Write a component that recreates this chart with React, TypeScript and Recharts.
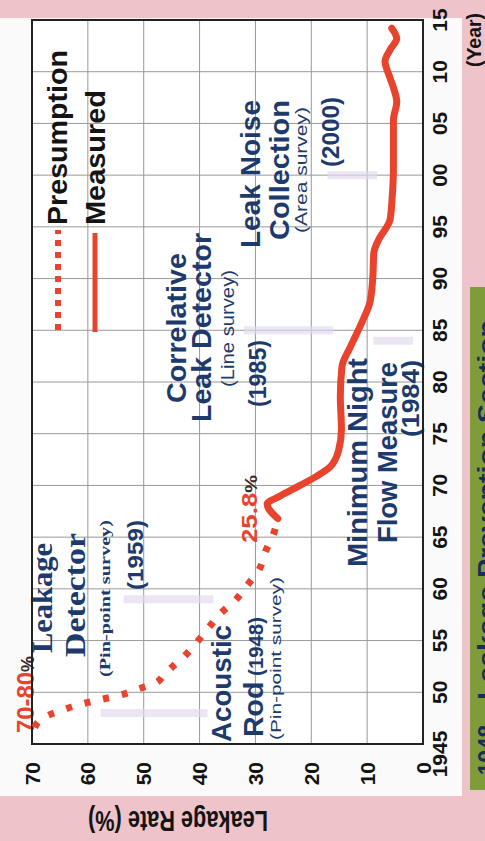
import React from 'react';
import {
  LineChart,
  Line,
  XAxis,
  YAxis,
  CartesianGrid,
  ReferenceArea,
  ReferenceLine,
  Customized,
} from 'recharts';

// years on the horizontal axis, leakage rate (%) on the vertical one
const YEAR_TICKS = [1945, 1950, 1955, 1960, 1965, 1970, 1975, 1980, 1985, 1990, 1995, 2000, 2005, 2010, 2015];
const RATE_TICKS = [0, 10, 20, 30, 40, 50, 60, 70];

const presumptionYears = [1946.6, 1947.6, 1948.3, 1948.9, 1949.3, 1949.7, 1950.3, 1950.9, 1951.6, 1952.3, 1953.4, 1954.9, 1956.3, 1957.6, 1958.9, 1960.4, 1961.8, 1963.6, 1965.4, 1966.8];
const presumptionRates = [69.5, 67.8, 64.5, 60.9, 57.7, 54.4, 51.1, 47.9, 46.5, 45.2, 42.9, 40.4, 38.3, 36.3, 33.6, 31.4, 29.4, 28.2, 26.7, 26.0];

const measuredYears = [1966.8, 1968.2, 1969.0, 1970.0, 1970.9, 1971.8, 1973.4, 1975.4, 1978.6, 1981.5, 1983.4, 1985.7, 1987.7, 1990.0, 1992.5, 1993.7, 1995.7, 1998.0, 2000.5, 2005.3, 2007.1, 2008.3, 2009.4, 2011.0, 2012.2, 2013.2, 2014.2];
const measuredRates = [26.0, 27.9, 25.5, 22.0, 19.0, 16.6, 15.1, 14.6, 14.8, 14.5, 13.0, 11.0, 9.5, 9.0, 8.8, 8.0, 5.9, 5.5, 5.3, 5.3, 4.7, 5.2, 5.9, 6.8, 5.8, 4.7, 5.6];

// faint markers for the year each technique came in
const markerYears = [1948, 1959, 1984, 1985, 2000];
const markerHigh = [57.7, 53.6, 8.9, 32.1, 17.1];
const markerLow = [38.6, 37.5, 1.8, 16.1, 8.2];

const presumption = presumptionYears.map((year, i) => ({ year, rate: presumptionRates[i] }));
const measured = measuredYears.map((year, i) => ({ year, rate: measuredRates[i] }));

const RED = '#e8432d';
const NAVY = '#1d3a6c';
const INK = '#141414';
const SANS = "'Liberation Sans', Arial, sans-serif";
const SERIF = "'Liberation Serif', 'Times New Roman', serif";

const Note = ({ x, y, size, w, color = NAVY, weight = 'bold', serif = false, children }: any) => (
  <text
    x={x}
    y={y}
    fontSize={size}
    fontWeight={weight}
    fill={color}
    fontFamily={serif ? SERIF : SANS}
    textLength={w}
    lengthAdjust="spacingAndGlyphs"
  >
    {children}
  </text>
);

const YearTick = ({ x, y, payload }: any) => (
  <text
    x={payload.value === 1945 ? x - 10 : x}
    y={y}
    dy="0.72em"
    textAnchor="middle"
    fontSize={21}
    fontWeight="bold"
    fill={INK}
    fontFamily={SANS}
  >
    {payload.value === 1945 ? '1945' : String(payload.value % 100).padStart(2, '0')}
  </text>
);

const RateTick = ({ x, y, payload }: any) => (
  <text x={x} y={y} dy="0.36em" textAnchor="end" fontSize={21} fontWeight="bold" fill={INK} fontFamily={SANS}>
    {payload.value}
  </text>
);

const Annotations = () => (
  <g>
    {/* legend */}
    <line x1={511} y1={58} x2={611} y2={58} stroke={RED} strokeWidth={6} strokeDasharray="6 6" />
    <line x1={509} y1={95} x2={608} y2={95} stroke={RED} strokeWidth={5} />
    <Note x={616} y={67} size={28} w={175} color={INK}>Presumption</Note>
    <Note x={616} y={105} size={28} w={135} color={INK}>Measured</Note>

    <text x={108} y={34} fontFamily={SANS} fontWeight="bold" textLength={77} lengthAdjust="spacingAndGlyphs">
      <tspan fill={RED} fontSize={24}>70-80</tspan>
      <tspan fill="#3a2a2a" fontSize={18}>%</tspan>
    </text>
    <text x={298} y={257} fontFamily={SANS} fontWeight="bold" textLength={68} lengthAdjust="spacingAndGlyphs">
      <tspan fill={RED} fontSize={22}>25.8</tspan>
      <tspan fill="#3a2a2a" fontSize={17}>%</tspan>
    </text>

    <Note x={188} y={52} size={29} w={110} serif>Leakage</Note>
    <Note x={184} y={85} size={29} w={124} serif>Detector</Note>
    <Note x={164} y={110} size={15} w={157} serif>(Pin-point survey)</Note>
    <Note x={251} y={143} size={22} w={70}>(1959)</Note>

    <Note x={99} y={231} size={28} w={117}>Acoustic</Note>
    <text x={104} y={263} fontFamily={SANS} fontWeight="bold" fill={NAVY} textLength={120} lengthAdjust="spacingAndGlyphs">
      <tspan fontSize={28}>Rod</tspan>
      <tspan fontSize={20}> (1948)</tspan>
    </text>
    <Note x={101} y={281} size={15} w={163} weight="normal">(Pin-point survey)</Note>

    <Note x={438} y={186} size={28} w={150}>Correlative</Note>
    <Note x={419} y={211} size={28} w={189}>Leak Detector</Note>
    <Note x={454} y={234} size={18} w={117} weight="normal">(Line survey)</Note>
    <Note x={434} y={266} size={23} w={67}>(1985)</Note>

    <Note x={593} y={260} size={28} w={148}>Leak Noise</Note>
    <Note x={601} y={289} size={28} w={140}>Collection</Note>
    <Note x={608} y={307} size={17} w={126} weight="normal">(Area survey)</Note>
    <Note x={674} y={339} size={23} w={70}>(2000)</Note>

    <Note x={274} y={367} size={28} w={209}>Minimum Night</Note>
    <Note x={298} y={397} size={28} w={181}>Flow Measure</Note>
    <Note x={404} y={419} size={23} w={77}>(1984)</Note>

    <Note x={774} y={481} size={20} w={54} color={INK}>(Year)</Note>
    <text
      x={30}
      y={178}
      transform="rotate(-90 30 178)"
      textAnchor="middle"
      fontSize={30}
      fontWeight="bold"
      fill={INK}
      fontFamily={SANS}
      textLength={180}
      lengthAdjust="spacingAndGlyphs"
    >
      Leakage Rate (%)
    </text>

    {/* green caption strip, cut off by the page edge as in the photo */}
    <rect x={51} y={470} width={503} height={30} fill="#7f9c3a" />
    <Note x={66} y={495} size={24} w={50} color="#1c2a5a">1948</Note>
    <Note x={141} y={495} size={24} w={380} color="#1c2a5a">Leakage Prevention Section</Note>
  </g>
);

export default function App() {
  return (
    <div style={{ position: 'fixed', left: 0, top: 0, width: 485, height: 841, overflow: 'hidden', background: '#eec4ca' }}>
      <div style={{ position: 'absolute', left: 0, top: 18, width: 462, height: 778, background: '#fbfafa' }} />
      <div
        style={{
          position: 'absolute',
          left: 0,
          top: 0,
          width: 841,
          height: 485,
          transformOrigin: 'top left',
          transform: 'rotate(-90deg) translateX(-100%)',
        }}
      >
        <LineChart width={841} height={485} margin={{ top: 32, right: 20, bottom: 22, left: 0 }}>
          <CartesianGrid stroke="#999" strokeWidth={1} fill="#ffffff" />
          <XAxis
            dataKey="year"
            type="number"
            domain={[1945, 2015]}
            ticks={YEAR_TICKS}
            interval={0}
            allowDataOverflow
            height={40}
            tickSize={0}
            tickMargin={9}
            axisLine={false}
            tick={<YearTick />}
          />
          <YAxis
            dataKey="rate"
            type="number"
            domain={[0, 70]}
            ticks={RATE_TICKS}
            interval={0}
            width={97}
            tickSize={0}
            tickMargin={18}
            axisLine={false}
            tick={<RateTick />}
          />
          {markerYears.map((year, i) => (
            <ReferenceLine
              key={year}
              segment={[{ x: year, y: markerHigh[i] }, { x: year, y: markerLow[i] }]}
              stroke="#e2d8ee"
              strokeWidth={8}
              strokeOpacity={0.65}
            />
          ))}
          <ReferenceArea x1={1945} x2={2015} y1={0} y2={70} fill="none" stroke="#222" strokeWidth={2} />
          <Line
            data={presumption}
            dataKey="rate"
            type="monotone"
            stroke={RED}
            strokeWidth={7}
            strokeDasharray="6 13"
            dot={false}
            isAnimationActive={false}
          />
          <Line
            data={measured}
            dataKey="rate"
            type="monotone"
            stroke={RED}
            strokeWidth={7}
            strokeLinejoin="round"
            strokeLinecap="round"
            dot={false}
            isAnimationActive={false}
          />
          <Customized component={Annotations} />
        </LineChart>
      </div>
    </div>
  );
}
